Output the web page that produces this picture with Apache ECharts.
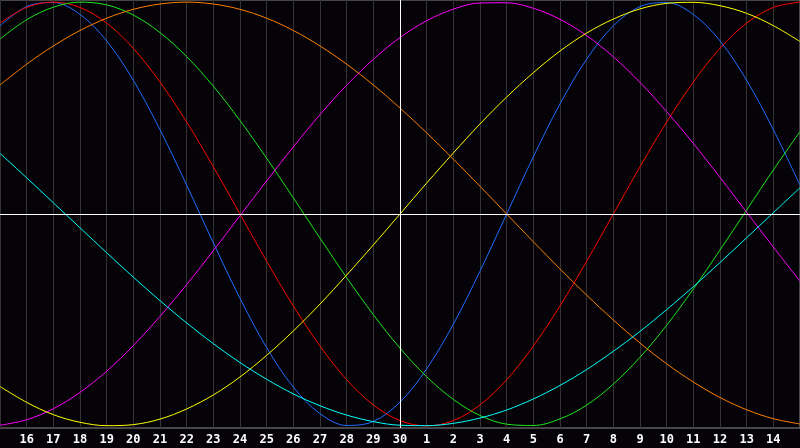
<!DOCTYPE html>
<html>
<head>
<meta charset="utf-8">
<script src="https://cdn.jsdelivr.net/npm/echarts@6/dist/echarts.min.js"></script>
<style>
html,body{margin:0;padding:0;background:#050308;}
#chart{width:800px;height:448px;}
</style>
</head>
<body>
<div id="chart"></div>
<script>
// Day categories (15th of one month to 15th of the next)
const days = ['15','16','17','18','19','20','21','22','23','24','25','26','27','28','29','30',
              '1','2','3','4','5','6','7','8','9','10','11','12','13','14','15'];

// Curve values (percent, -100..100), one per day
const blueVals    = [88.8,97.9,99.8,94.2,81.7,63.1,39.8,13.6,-13.6,-39.8,-63.1,-81.7,-94.2,-99.8,-97.9,-88.8,-73.1,-52.0,-27.0,0,27.0,52.0,73.1,88.8,97.9,99.8,94.2,81.7,63.1,39.8,13.6];
const redVals     = [90.1,97.5,100,97.5,90.1,78.2,62.3,43.4,22.3,0,-22.3,-43.4,-62.3,-78.2,-90.1,-97.5,-100,-97.5,-90.1,-78.2,-62.3,-43.4,-22.3,0,22.3,43.4,62.3,78.2,90.1,97.5,100];
const greenVals   = [82.6,91.7,97.6,100.0,98.7,93.9,85.6,74.3,60.3,44.1,26.3,7.6,-11.4,-30.0,-47.5,-63.3,-76.8,-87.5,-95.1,-99.2,-99.8,-96.7,-90.2,-80.3,-67.6,-52.5,-35.4,-17.0,1.9,20.8,38.9];
const magentaVals = [-99.7,-97.1,-91.9,-84.2,-74.2,-62.1,-48.3,-33.3,-17.3,-0.8,15.6,31.7,46.9,60.8,73.0,83.3,91.2,96.7,99.6,99.7,97.1,91.9,84.2,74.2,62.1,48.3,33.3,17.3,0.8,-15.6,-31.7];
const yellowVals  = [-81.4,-88.9,-94.7,-98.3,-99.9,-99.4,-96.8,-92.0,-85.4,-76.9,-66.7,-55.2,-42.5,-28.8,-14.6,0,14.6,28.8,42.5,55.2,66.7,76.9,85.4,92.0,96.8,99.4,99.9,98.3,94.7,88.9,81.4];
const orangeVals  = [60.9,70.7,79.3,86.6,92.4,96.6,99.1,100,99.1,96.6,92.4,86.6,79.3,70.7,60.9,50.0,38.3,25.9,13.1,0,-13.1,-25.9,-38.3,-50.0,-60.9,-70.7,-79.3,-86.6,-92.4,-96.6,-99.1];
const cyanVals    = [28.6,17.1,5.3,-6.5,-18.3,-29.8,-40.9,-51.4,-61.2,-70.1,-78.0,-84.9,-90.5,-94.9,-98.0,-99.7,-99.9,-98.8,-96.3,-92.5,-87.3,-80.9,-73.4,-64.8,-55.4,-45.1,-34.3,-22.9,-11.2,0.6,12.4];

const curves = [
  {name:'blue',    data:blueVals,    color:'#1e6eff'},
  {name:'red',     data:redVals,     color:'#ff0000'},
  {name:'green',   data:greenVals,   color:'#1ee61e'},
  {name:'magenta', data:magentaVals, color:'#ff00ff'},
  {name:'yellow',  data:yellowVals,  color:'#ffff00'},
  {name:'orange',  data:orangeVals,  color:'#ff8000'},
  {name:'cyan',    data:cyanVals,    color:'#00ffff'}
];

const chart = echarts.init(document.getElementById('chart'), null, {renderer:'canvas'});

const series = curves.map((c, idx) => {
  const s = {
    name: c.name,
    type: 'line',
    data: c.data,
    smooth: 0.35,
    symbol: 'none',
    lineStyle: {color: c.color, width: 1},
    itemStyle: {color: c.color},
    silent: true,
    z: 3
  };
  if (idx === 0) {
    s.markLine = {
      silent: true,
      symbol: ['none','none'],
      label: {show:false},
      lineStyle: {color:'#ffffff', width:1, type:'solid'},
      data: [{yAxis: 0}, {xAxis: '30'}],
      animation: false
    };
  }
  return s;
});

const lastIdx = days.length - 1;

chart.setOption({
  backgroundColor: '#050308',
  animation: false,
  grid: {left: 0, right: 0, top: 0, bottom: 20, containLabel: false, outerBoundsMode: 'none',
         show: true, borderColor: '#8a8a8a', borderWidth: 1, backgroundColor: 'transparent'},
  xAxis: {
    type: 'category',
    data: days,
    boundaryGap: false,
    axisLine: {show: true, lineStyle: {color: '#a0a0a0', width: 1}},
    axisTick: {show: false},
    splitLine: {show: true, lineStyle: {color: '#343434', width: 1}},
    axisLabel: {
      interval: 0,
      hideOverlap: false,
      color: '#ffffff',
      fontFamily: 'DejaVu Sans Mono',
      fontWeight: 'bold',
      fontSize: 12,
      margin: 6,
      formatter: function (val, i) { return (i === 0 || i === lastIdx) ? '' : val; }
    }
  },
  yAxis: {
    type: 'value',
    min: -101,
    max: 101,
    show: false,
    splitLine: {show: false}
  },
  series: series
});
</script>
</body>
</html>
